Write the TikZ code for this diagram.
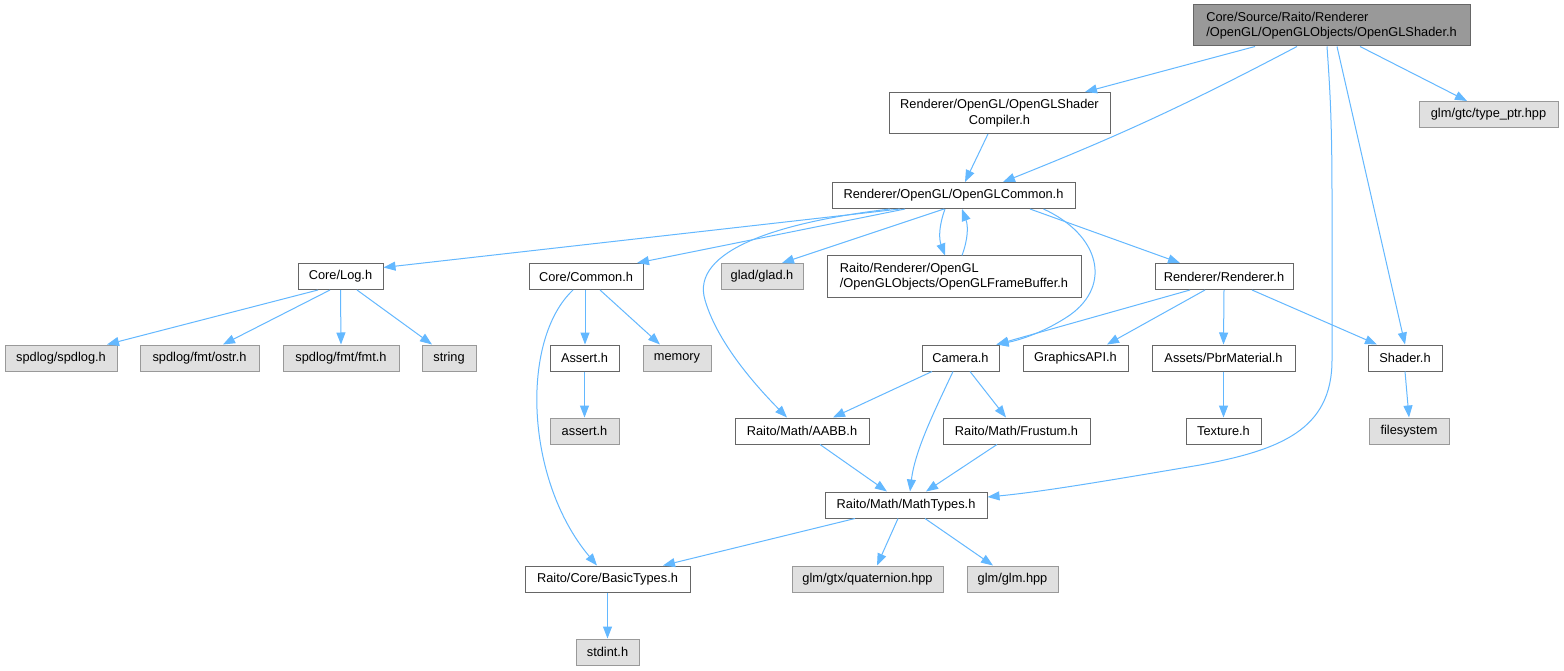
\documentclass[tikz,border=0pt]{standalone}
\usepackage{fontspec}
\setmainfont{Liberation Sans}
\usepackage{tikz}
\usetikzlibrary{arrows.meta}
\definecolor{arrowblue}{HTML}{63B8FF}
\definecolor{boxline}{HTML}{666666}
\definecolor{extline}{HTML}{999999}
\definecolor{extfill}{HTML}{E0E0E0}
\definecolor{rootfill}{HTML}{999999}
\newcommand{\docfont}{\fontsize{12.8}{15.5}\selectfont}
\tikzset{
  file/.style={draw=boxline, fill=white, line width=1pt, inner sep=0pt, minimum height=26pt, font=\docfont},
  ext/.style={file, draw=extline, fill=extfill},
  twoline/.style={file, minimum height=41pt, align=center},
  root/.style={file, fill=rootfill, minimum height=41pt, align=left},
  dep/.style={draw=arrowblue, line width=1pt, -{Triangle[length=12pt,width=9pt]}},
}

\begin{document}
\begin{tikzpicture}[x=1pt,y=-1pt]
  \useasboundingbox[fill=white] (0,0) rectangle (1564,671);

  % files
  \node[root, minimum width=277pt] (shaderh) at (1331.5,25.5) {Core/Source/Raito/Renderer\\/OpenGL/OpenGLObjects/OpenGLShader.h};
  \node[twoline, minimum width=221pt] (compiler) at (999.5,113) {Renderer/OpenGL/OpenGLShader\\Compiler.h};
  \node[ext, minimum width=139pt] (typeptr) at (1488.5,114.5) {glm/gtc/type\_ptr.hpp};
  \node[file, minimum width=243pt] (glcommon) at (953.5,195.5) {Renderer/OpenGL/OpenGLCommon.h};

  \node[file, minimum width=85pt] (log) at (340.5,276.5) {Core/Log.h};
  \node[file, minimum width=114pt] (corecommon) at (586,276.5) {Core/Common.h};
  \node[ext, minimum width=82pt] (glad) at (762,276.5) {glad/glad.h};
  \node[twoline, align=left, minimum width=254pt] (framebuffer) at (954,276.5) {Raito/Renderer/OpenGL\\/OpenGLObjects/OpenGLFrameBuffer.h};
  \node[file, minimum width=138pt] (renderer) at (1224,276.5) {Renderer/Renderer.h};

  \node[ext, minimum width=112pt] (spdlog) at (61,358) {spdlog/spdlog.h};
  \node[ext, minimum width=119pt] (ostr) at (199.5,358) {spdlog/fmt/ostr.h};
  \node[ext, minimum width=116pt] (fmt) at (341,358) {spdlog/fmt/fmt.h};
  \node[ext, minimum width=54pt] (string) at (449,358) {string};
  \node[file, minimum width=69pt] (assertx) at (584.5,358) {Assert.h};
  \node[ext, minimum width=68pt] (memory) at (677,358) {memory};
  \node[file, minimum width=77pt] (camera) at (960.5,358) {Camera.h};
  \node[file, minimum width=105pt] (gfxapi) at (1075.5,358) {GraphicsAPI.h};
  \node[file, minimum width=143pt] (pbr) at (1223.5,358) {Assets/PbrMaterial.h};
  \node[file, minimum width=74pt] (shader) at (1405,358) {Shader.h};

  \node[ext, minimum width=69pt] (asserth) at (584.5,431) {assert.h};
  \node[file, minimum width=134pt] (aabb) at (802,431) {Raito/Math/AABB.h};
  \node[file, minimum width=147pt] (frustum) at (1016.5,431) {Raito/Math/Frustum.h};
  \node[file, minimum width=75pt] (texture) at (1223.5,431) {Texture.h};
  \node[ext, minimum width=80pt] (filesystem) at (1409,431) {filesystem};

  \node[file, minimum width=162pt] (mathtypes) at (906,505) {Raito/Math/MathTypes.h};

  \node[file, minimum width=165pt] (basictypes) at (607.5,579) {Raito/Core/BasicTypes.h};
  \node[ext, minimum width=151pt] (quat) at (867.5,579) {glm/gtx/quaternion.hpp};
  \node[ext, minimum width=91pt] (glm) at (1012.5,579) {glm/glm.hpp};

  \node[ext, minimum width=63pt] (stdint) at (607.5,652) {stdint.h};

  % includes of OpenGLShader.h
  \draw[dep] ([xshift=-76.5pt]shaderh.south) -- ([xshift=85.5pt]compiler.north);
  \draw[dep] ([xshift=-34.5pt]shaderh.south) to[bend left=3] ([xshift=49.5pt]glcommon.north);
  \draw[dep] ([xshift=-4.5pt]shaderh.south) .. controls (1330,90) and (1332,120) .. (1332,200)
    -- (1332,360) .. controls (1332,430) and (1280,450) .. (1200,465)
    .. controls (1100,482) and (1040,492) .. ([yshift=8pt]mathtypes.east);
  \draw[dep] ([xshift=5.5pt]shaderh.south) -- (shader.north);
  \draw[dep] ([xshift=28.5pt]shaderh.south) -- ([xshift=-21.5pt]typeptr.north);
  \draw[dep] ([xshift=-11.5pt]compiler.south) -- ([xshift=11.5pt]glcommon.north);

  % OpenGLCommon.h
  \draw[dep] ([xshift=-53.5pt]glcommon.south) -- ([yshift=9pt]log.east);
  \draw[dep] ([xshift=-48.5pt]glcommon.south) -- ([xshift=51pt]corecommon.north);
  \draw[dep] ([xshift=-9.5pt]glcommon.south) -- ([xshift=20pt]glad.north);
  \draw[dep] ([xshift=-8.5pt]glcommon.south) to[bend right=20] ([xshift=-9pt]framebuffer.north);
  \draw[dep] ([xshift=8pt]framebuffer.north) to[bend right=20] ([xshift=8.5pt]glcommon.south);
  \draw[dep] ([xshift=76.5pt]glcommon.south) -- ([xshift=-44pt]renderer.north);
  \draw[dep] ([xshift=90pt]glcommon.south) .. controls (1100,235) and (1112,285) .. (1070,315)
    .. controls (1045,332) and (1020,340) .. ([xshift=-3pt]camera.north east);
  \draw[dep] ([xshift=-63.5pt]glcommon.south) .. controls (780,222) and (690,250) .. (705,300)
    .. controls (718,345) and (760,390) .. ([xshift=-15pt]aabb.north);

  % Log.h and Common.h
  \draw[dep] ([xshift=-22.5pt]log.south) -- ([xshift=46pt]spdlog.north);
  \draw[dep] ([xshift=-10.5pt]log.south) -- ([xshift=23.5pt]ostr.north);
  \draw[dep] (log.south) -- (fmt.north);
  \draw[dep] ([xshift=16.5pt]log.south) -- ([xshift=-17pt]string.north);
  \draw[dep] ([xshift=-1pt]corecommon.south) -- ([xshift=0.5pt]assertx.north);
  \draw[dep] ([xshift=14pt]corecommon.south) -- ([xshift=-17pt]memory.north);
  \draw[dep] ([xshift=-13pt]corecommon.south) .. controls (520,340) and (525,480) .. ([xshift=-10.5pt]basictypes.north);
  \draw[dep] (assertx.south) -- (asserth.north);

  % Renderer.h
  \draw[dep] ([xshift=-34pt]renderer.south) -- ([xshift=-3pt]camera.north east);
  \draw[dep] ([xshift=-19pt]renderer.south) -- ([xshift=31.5pt]gfxapi.north);
  \draw[dep] (renderer.south) -- (pbr.north);
  \draw[dep] ([xshift=28pt]renderer.south) -- ([xshift=-28pt]shader.north);
  \draw[dep] (pbr.south) -- (texture.north);
  \draw[dep] (shader.south) -- (filesystem.north);

  % Camera.h and math
  \draw[dep] ([xshift=-28.5pt]camera.south) -- ([xshift=31pt]aabb.north);
  \draw[dep] ([xshift=-7.5pt]camera.south) .. controls (935,410) and (915,450) .. ([xshift=4pt]mathtypes.north);
  \draw[dep] ([xshift=9.5pt]camera.south) -- ([xshift=-10.5pt]frustum.north);
  \draw[dep] ([xshift=18pt]aabb.south) -- ([xshift=-19pt]mathtypes.north);
  \draw[dep] ([xshift=-19.5pt]frustum.south) -- ([xshift=20pt]mathtypes.north);
  \draw[dep] ([xshift=-51pt]mathtypes.south) -- ([xshift=55.5pt]basictypes.north);
  \draw[dep] ([xshift=-8pt]mathtypes.south) -- ([xshift=9.5pt]quat.north);
  \draw[dep] ([xshift=19pt]mathtypes.south) -- ([xshift=-19.5pt]glm.north);
  \draw[dep] (basictypes.south) -- (stdint.north);
\end{tikzpicture}
\end{document}
